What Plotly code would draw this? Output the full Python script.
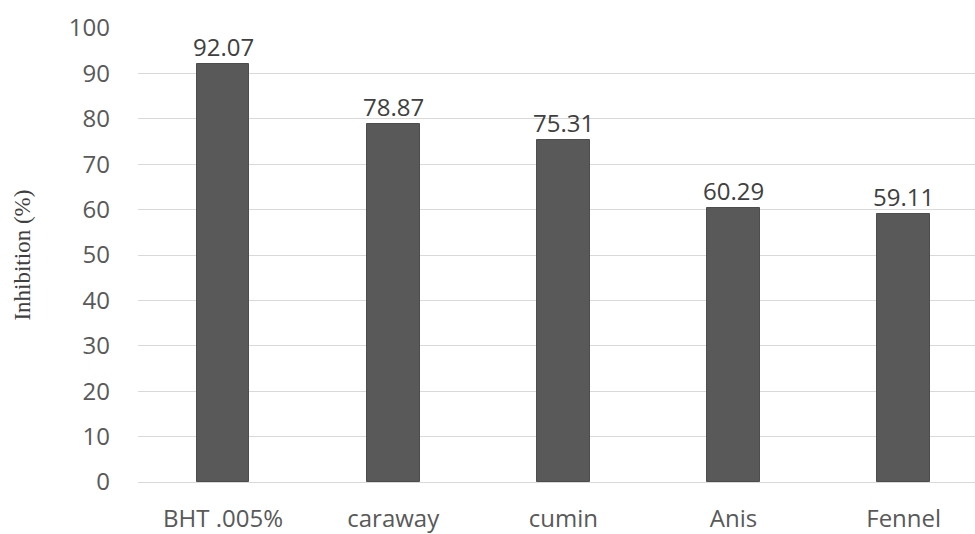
import plotly.graph_objects as go

# Antioxidant inhibition by sample
categories = ["BHT .005%", "caraway", "cumin", "Anis", "Fennel"]
inhibition = [92.07, 78.87, 75.31, 60.29, 59.11]
y_ticks = [0, 10, 20, 30, 40, 50, 60, 70, 80, 90, 100]

W, H = 975, 534
left, right, top, bottom = 137.5, 0, 28, 52
plot_w = W - left - right
cat_px = 170.25  # horizontal space per category

sans = "Open Sans, sans-serif"

fig = go.Figure(
    go.Bar(
        x=categories,
        y=inhibition,
        width=0.31,
        marker=dict(color="#595959", line=dict(color="#4d4d4d", width=1)),
        cliponaxis=False,
    )
)

# value labels sitting just above each bar
value_labels = [
    dict(
        x=c,
        y=v,
        xref="x",
        yref="y",
        text=f"{v:.2f}",
        showarrow=False,
        xanchor="center",
        yanchor="bottom",
        yshift=-1,
        font=dict(family=sans, size=24, color="#404040"),
    )
    for c, v in zip(categories, inhibition)
]

fig.update_layout(
    width=W,
    height=H,
    margin=dict(l=left, r=right, t=top, b=bottom, pad=0),
    paper_bgcolor="white",
    plot_bgcolor="white",
    showlegend=False,
    bargap=0,
    xaxis=dict(
        range=[-0.5, -0.5 + plot_w / cat_px],
        automargin=False,
        showgrid=False,
        zeroline=False,
        showline=False,
        ticks="",
        ticklabelstandoff=20,
        tickfont=dict(family=sans, size=24, color="#595959"),
    ),
    yaxis=dict(
        range=[0, 100],
        automargin=False,
        tickvals=y_ticks,
        showgrid=True,
        gridcolor="#d9d9d9",
        gridwidth=1,
        zeroline=True,
        zerolinecolor="#d9d9d9",
        zerolinewidth=1,
        showline=False,
        ticks="",
        ticklabelstandoff=27,
        tickfont=dict(family=sans, size=24, color="#595959"),
    ),
    annotations=value_labels
    + [
        dict(
            text="Inhibition (%)",
            textangle=-90,
            xref="paper",
            yref="paper",
            x=(21 - left) / plot_w,
            y=0.5,
            xanchor="center",
            yanchor="middle",
            showarrow=False,
            font=dict(family="Liberation Serif, Times New Roman, serif", size=23, color="#404040"),
        )
    ],
)

fig.write_html("out.html")
